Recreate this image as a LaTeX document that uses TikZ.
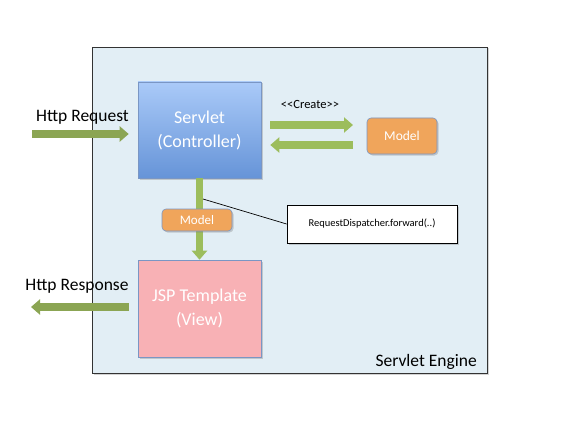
\documentclass[tikz,border=0pt]{standalone}
\usepackage{fontspec}
\setmainfont{Carlito}
\usetikzlibrary{arrows.meta,shadows,calc}
\definecolor{engine}{HTML}{E2EEF5}
\definecolor{arrowdark}{HTML}{8BA553}
\definecolor{arrowlight}{HTML}{9CBD5C}
\definecolor{modelfill}{HTML}{F0A55B}
\definecolor{modelline}{HTML}{7A96C4}
\definecolor{servtop}{HTML}{AACAF8}
\definecolor{servbot}{HTML}{6694D8}
\definecolor{jspfill}{HTML}{F8B1B5}
\tikzset{
  softshadow/.style={drop shadow={opacity=0.35,shadow xshift=1.5pt,shadow yshift=-1.5pt}},
  bigbox/.style={draw=modelline,line width=0.6pt,minimum width=123pt,minimum height=96pt,align=center,text=white,font=\fontsize{18}{22}\selectfont,inner sep=0pt,softshadow},
  modelbox/.style={draw=modelline,fill=modelfill,rounded corners=4pt,line width=0.6pt,text=white,inner sep=0pt,softshadow},
  blockarrow/.style={line width=7.5pt,-{Triangle[width=15pt,length=9pt]},shorten >=0pt},
  lbl/.style={font=\fontsize{17.5}{21}\selectfont,inner sep=0pt,text=black}
}
\begin{document}
\begin{tikzpicture}[x=1pt,y=-1pt]
\useasboundingbox (0,0) rectangle (562,433);
% engine container
\node[draw=black!80,line width=0.8pt,fill=engine,minimum width=395pt,minimum height=326pt,inner sep=0pt,softshadow] (engine) at (289.5,210) {};
\node[lbl,anchor=east] (enginelbl) at (477,362) {Servlet Engine};
% servlet
\node[bigbox,top color=servtop,bottom color=servbot] (servlet) at (199.5,130) {Servlet\\[2pt](Controller)};
% jsp
\node[bigbox,fill=jspfill,minimum height=97pt] (jsp) at (199.5,308.5) {JSP Template\\[2pt](View)};
% model right
\node[modelbox,minimum width=70pt,minimum height=36pt,font=\fontsize{13.5}{16}\selectfont] (model) at (402,136) {Model};
% http request
\coordinate (reqstart) at (32,134);
\coordinate (reqend) at ($(servlet.west |- reqstart)+(-9,0)$);
\draw[blockarrow,draw=arrowdark] (reqstart) -- (reqend);
\node[lbl] (reqlbl) at (82.5,117) {Http Request};
% http response
\coordinate (resend) at (31,307);
\coordinate (resstart) at ($(jsp.west |- resend)+(-9,0)$);
\draw[blockarrow,draw=arrowdark] (resstart) -- (resend);
\node[lbl] (reslbl) at (77,286) {Http Response};
% create arrows
\coordinate (c1) at ($(servlet.east |- 0,125)+(9,0)$);
\coordinate (c2) at (353,125);
\draw[blockarrow,draw=arrowlight] (c1) -- (c2);
\coordinate (d1) at (353,145);
\coordinate (d2) at ($(servlet.east |- 0,145)+(9,0)$);
\draw[blockarrow,draw=arrowlight] (d1) -- (d2);
\node[font=\fontsize{12.5}{14}\selectfont,inner sep=0pt] (create) at (310,104) {{<}{<}Create{>}{>}};
% vertical arrow
\draw[blockarrow,draw=arrowlight] (servlet.south) -- (jsp.north);
\coordinate (tap) at (203,199);
% dispatcher box
\node[draw=black,fill=white,line width=0.8pt,minimum width=170pt,minimum height=38pt,inner sep=0pt,font=\fontsize{10.5}{13}\selectfont,softshadow] (disp) at (372,224) {RequestDispatcher.forward(..)};
\draw[black,line width=0.7pt] (tap) -- (disp.west);
% small model
\node[modelbox,minimum width=70pt,minimum height=22pt,font=\fontsize{13}{15}\selectfont] (model2) at (197,220) {Model};
\end{tikzpicture}
\end{document}
